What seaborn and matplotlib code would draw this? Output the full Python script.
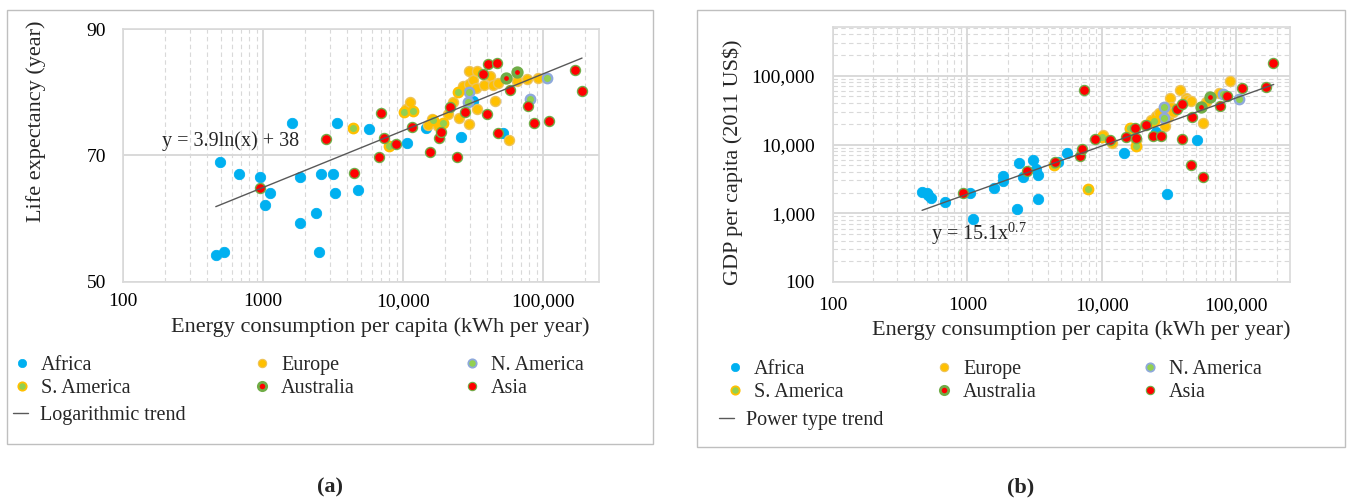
import numpy as np
import pandas as pd
import matplotlib
matplotlib.use("Agg")
import matplotlib.pyplot as plt
import seaborn as sns
from matplotlib.lines import Line2D
from matplotlib.patches import Rectangle
from matplotlib.ticker import LogLocator, NullFormatter

# ---------------- data: panel (a) energy (kWh/yr) vs life expectancy ----------------
africa_a_x = [461, 529, 494, 674, 946, 1122, 1038, 1603, 1846, 1829, 2379, 2596, 3145, 3266,
              3359, 2500, 5741, 4795, 10740, 14520, 25940, 31770, 52000]
africa_a_y = [54.3, 54.7, 68.9, 67.0, 66.6, 64.1, 62.1, 75.1, 66.6, 59.4, 60.9, 67.1, 67.1, 64.1,
              75.1, 54.7, 74.2, 64.6, 71.9, 74.4, 72.9, 78.6, 73.6]
europe_a_x = [10450, 11220, 15170, 16030, 17880, 21000, 22860, 25100, 26980, 29580, 29770, 29770,
              31770, 33200, 33560, 33560, 38100, 41800, 43700, 45400, 47400, 57400, 64700, 76400, 92500]
europe_a_y = [77.3, 78.5, 74.8, 75.8, 74.6, 76.5, 78.5, 75.9, 81.0, 81.3, 75.0, 83.4,
              82.0, 80.7, 77.4, 83.4, 81.2, 82.6, 81.2, 78.6, 81.4, 72.5, 81.7, 82.1, 82.3]
namer_a_x = [28980, 29580, 80700, 107400]
namer_a_y = [78.5, 80.1, 78.9, 82.3]
samer_a_x = [4375, 7980, 10160, 11850, 16400, 19230, 24540]
samer_a_y = [74.4, 71.5, 76.8, 77.0, 75.6, 75.1, 80.1]
aus_a_x = [54400, 64700]
aus_a_y = [82.3, 83.2]
asia_a_x = [946, 2806, 4487, 6745, 7000, 7350, 8910, 11530, 15600, 18070, 18660, 21500, 24430,
            27700, 37060, 40000, 40650, 46630, 47400, 58100, 78500, 86700, 110900, 169300, 191000]
asia_a_y = [64.8, 72.6, 67.3, 69.7, 76.7, 72.7, 71.8, 74.5, 70.6, 72.8, 73.7, 77.7, 69.8,
            76.9, 82.9, 76.6, 84.5, 84.7, 73.5, 80.3, 77.8, 75.1, 75.4, 83.5, 80.2]

# ---------------- data: panel (b) energy (kWh/yr) vs GDP per capita ----------------
africa_b_x = [460, 497, 510, 532, 680, 1042, 1103, 1585, 1825, 1845, 2355, 2425, 2595, 3080,
              3225, 3355, 3355, 4720, 5550, 14620, 25420, 30690, 50900]
africa_b_y = [2060, 1950, 1845, 1650, 1445, 1955, 827, 2360, 2950, 3490, 1157, 5350, 3340, 5970,
              4370, 3610, 1615, 5640, 7470, 7470, 15420, 1890, 11670]
europe_b_x = [10200, 12000, 16600, 17820, 20800, 23300, 25420, 26550, 29300, 31000, 31900, 32880,
              34000, 37850, 42500, 43000, 46200, 56400, 60000, 75000, 89900]
europe_b_y = [13800, 10670, 17270, 11670, 19280, 22790, 26060, 28560, 18660, 25460, 47200, 35600,
              30000, 62400, 47200, 44500, 43550, 20400, 42000, 56900, 85100]
namer_b_x = [16200, 28950, 29000, 79400, 105700]
namer_b_y = [16700, 34900, 24200, 54400, 45600]
samer_b_x = [4375, 7890, 10100, 16300, 17820, 24640]
samer_b_y = [5050, 2235, 12700, 17270, 9550, 22270]
aus_b_x = [54400, 64100]
aus_b_y = [35600, 49700]
asia_b_x = [929, 2780, 4460, 6840, 7170, 7330, 8860, 11540, 15220, 17750, 18030, 21390, 23980,
            27370, 36100, 39650, 39650, 45700, 46700, 57000, 76200, 85500, 110000, 166700, 186700]
asia_b_y = [1955, 4170, 5640, 6890, 8530, 62400, 12040, 11670, 13030, 17270, 12370, 19280, 13480,
            13330, 33000, 38990, 12050, 5050, 25460, 3410, 36480, 50900, 65900, 69700, 155700]

regions = ["Africa", "Europe", "N. America", "S. America", "Australia", "Asia"]
x_tick_vals = [100, 1000, 10000, 100000]
x_tick_labels = ["100", "1000", "10,000", "100,000"]
a_y_ticks = [50, 70, 90]
b_y_ticks = [100, 1000, 10000, 100000]
b_y_tick_labels = ["100", "1,000", "10,000", "100,000"]
log_a, log_b = 3.9, 38.0        # y = 3.9 ln(x) + 38
pow_a, pow_b = 15.1, 0.7        # y = 15.1 x^0.7
trend_range = (460, 190000)

# ---------------- style ----------------
sns.set_style("white")
plt.rcParams["font.family"] = ["Liberation Serif", "DejaVu Serif"]
plt.rcParams["mathtext.fontset"] = "custom"
plt.rcParams["mathtext.rm"] = "Liberation Serif"
plt.rcParams["mathtext.it"] = "Liberation Serif:italic"

STY = {
    "Africa":     dict(fc="#00B0F0", ec="#00B0F0", lw=0.6, s=56, lg_lw=0.5),
    "Europe":     dict(fc="#FFC000", ec="#EDC35A", lw=1.0, s=52, lg_lw=0.8),
    "N. America": dict(fc="#92D050", ec="#8EA9DB", lw=1.7, s=46, lg_lw=1.3),
    "S. America": dict(fc="#92D050", ec="#FFC000", lw=1.7, s=46, lg_lw=1.3),
    "Australia":  dict(fc="#FF0000", ec="#70AD47", lw=2.7, s=38, lg_lw=2.0),
    "Asia":       dict(fc="#FF0000", ec="#70AD47", lw=1.0, s=52, lg_lw=0.8),
}
GRID = "#D9D9D9"
TREND = "#595959"

W, H = 1348, 500
fig = plt.figure(figsize=(W / 100, H / 100), dpi=100)

def fx(px): return px / W
def fy(py): return 1 - py / H

ax_a = fig.add_axes([fx(123), fy(282), fx(599) - fx(123), fy(29) - fy(282)])
ax_b = fig.add_axes([fx(833), fy(282), fx(1290) - fx(833), fy(27) - fy(282)])

data_a = {
    "Africa": (africa_a_x, africa_a_y), "Europe": (europe_a_x, europe_a_y),
    "N. America": (namer_a_x, namer_a_y), "S. America": (samer_a_x, samer_a_y),
    "Australia": (aus_a_x, aus_a_y), "Asia": (asia_a_x, asia_a_y),
}
data_b = {
    "Africa": (africa_b_x, africa_b_y), "Europe": (europe_b_x, europe_b_y),
    "N. America": (namer_b_x, namer_b_y), "S. America": (samer_b_x, samer_b_y),
    "Australia": (aus_b_x, aus_b_y), "Asia": (asia_b_x, asia_b_y),
}

def draw_points(ax, data):
    for i, r in enumerate(regions):
        xs, ys = data[r]
        df = pd.DataFrame({"x": xs, "y": ys})
        st = STY[r]
        sns.scatterplot(data=df, x="x", y="y", ax=ax, color=st["fc"], edgecolor=st["ec"],
                        linewidth=st["lw"], s=st["s"], legend=False, zorder=3 + i * 0.1)

draw_points(ax_a, data_a)
draw_points(ax_b, data_b)

# trend lines
xt = np.geomspace(*trend_range, 200)
sns.lineplot(x=xt, y=log_a * np.log(xt) + log_b, ax=ax_a, color=TREND, lw=1.0, zorder=6)
sns.lineplot(x=xt, y=pow_a * xt ** pow_b, ax=ax_b, color=TREND, lw=1.0, zorder=6)

for ax in (ax_a, ax_b):
    ax.set_xscale("log")
    ax.set_xlim(100, 10 ** 5.4)
    ax.set_xticks(x_tick_vals, labels=x_tick_labels)
    ax.xaxis.set_minor_locator(LogLocator(base=10, subs=range(2, 10), numticks=20))
    ax.xaxis.set_minor_formatter(NullFormatter())
    ax.tick_params(axis="both", which="both", length=0, labelsize=14, colors="#000000")
    ax.grid(True, axis="x", which="major", color=GRID, lw=1.4, ls="-")
    ax.grid(True, axis="x", which="minor", color=GRID, lw=0.8, ls=(0, (4, 3)))
    ax.set_axisbelow(True)
    for sp in ax.spines.values():
        sp.set_color(GRID)
        sp.set_linewidth(1.2)
    ax.set_facecolor("white")

# panel a axes
ax_a.set_ylim(50, 90)
ax_a.set_yticks(a_y_ticks)
ax_a.grid(True, axis="y", which="major", color=GRID, lw=1.4, ls="-")
ax_a.tick_params(axis="y", pad=12)
ax_a.tick_params(axis="x", pad=8)

# panel b axes
ax_b.set_yscale("log")
ax_b.set_ylim(100, 5.13e5)
ax_b.set_yticks(b_y_ticks, labels=b_y_tick_labels)
ax_b.yaxis.set_minor_locator(LogLocator(base=10, subs=range(2, 10), numticks=20))
ax_b.yaxis.set_minor_formatter(NullFormatter())
ax_b.grid(True, axis="y", which="major", color=GRID, lw=1.4, ls="-")
ax_b.grid(True, axis="y", which="minor", color=GRID, lw=0.8, ls=(0, (4, 3)))
ax_b.tick_params(axis="y", pad=13)
ax_b.tick_params(axis="x", pad=11)

# axis labels
xl = "Energy consumption per capita (kWh per year)"
ax_a.set_xlabel(xl, fontsize=16)
ax_a.xaxis.label.set_va("center")
ax_a.xaxis.set_label_coords(0.54, -0.178)
ax_b.set_xlabel(xl, fontsize=16)
ax_b.xaxis.label.set_va("center")
ax_b.xaxis.set_label_coords(0.543, -0.188)

ax_a.set_ylabel("Life expectancy (year)", fontsize=16)
ax_a.yaxis.label.set_va("center")
ax_a.yaxis.set_label_coords(-0.183, 0.636)
ax_b.set_ylabel("GDP per capita (2011 US$)", fontsize=16)
ax_b.yaxis.label.set_va("center")
ax_b.yaxis.set_label_coords(-0.219, 0.47)

# equations
ax_a.text(0.082, 0.557, "y = 3.9ln(x) + 38", transform=ax_a.transAxes, fontsize=14.5,
          ha="left", va="center", zorder=7)
ax_b.text(0.214, 0.19, r"y = 15.1x$^{0.7}$", transform=ax_b.transAxes, fontsize=14.5,
          ha="left", va="center", zorder=7)

# legends (one small legend per entry, placed in figure pixels)
LFS = 14.5
def marker_handle(r):
    st = STY[r]
    return Line2D([], [], ls="", marker="o", markersize=6.0, markerfacecolor=st["fc"],
                  markeredgecolor=st["ec"], markeredgewidth=st["lg_lw"])

def add_entry(handle, label, px, py, hl=1.0, pad=0.45):
    fig.legend([handle], [label], loc="center left", bbox_to_anchor=(fx(px), fy(py)),
               frameon=False, fontsize=LFS, handlelength=hl, handletextpad=pad,
               borderpad=0, borderaxespad=0, handleheight=0.7)

def legend_block(cols, rows, trend_label, trend_x):
    layout = [["Africa", "Europe", "N. America"], ["S. America", "Australia", "Asia"]]
    for ri, row in enumerate(layout):
        for ci, r in enumerate(row):
            add_entry(marker_handle(r), r, cols[ci] - 10, rows[ri])
    add_entry(Line2D([], [], color=TREND, lw=1.0), trend_label, trend_x, rows[2],
              hl=0.75, pad=0.6)

legend_block([22, 262, 472], [365, 388, 415], "Logarithmic trend", 13)
legend_block([735, 944, 1150], [369, 392, 420], "Power type trend", 719)

# outer boxes
for (x0, y0, x1, y1) in [(7, 10, 653, 444), (697, 10, 1345, 447)]:
    fig.patches.append(Rectangle((fx(x0), fy(y1)), fx(x1) - fx(x0), fy(y0) - fy(y1),
                                 transform=fig.transFigure, fill=False, ec="#BFBFBF", lw=1.0))

# panel letters
fig.text(fx(330), fy(487), "(a)", ha="center", va="center", fontsize=16, fontweight="bold")
fig.text(fx(1021), fy(487), "(b)", ha="center", va="center", fontsize=16, fontweight="bold")

fig.savefig("out.png", dpi=100, facecolor="white")
